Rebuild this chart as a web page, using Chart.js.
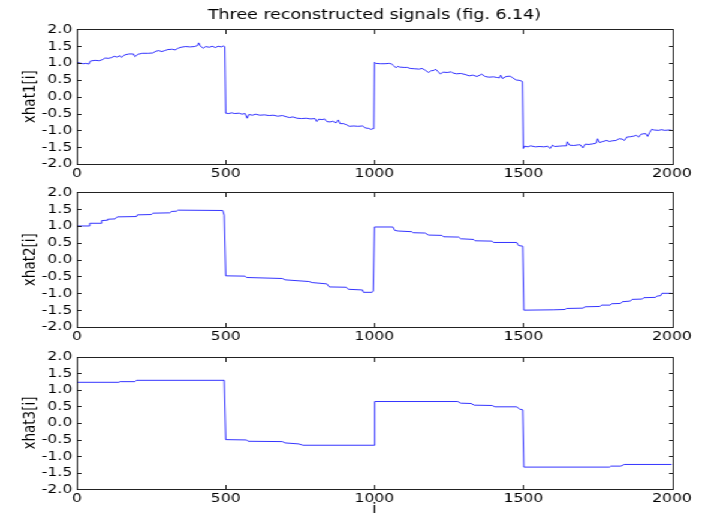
<!DOCTYPE html>
<html>
<head>
<meta charset="utf-8">
<script src="https://cdn.jsdelivr.net/npm/chart.js@4/dist/chart.umd.min.js"></script>
<style>
html, body { margin: 0; padding: 0; background: #fff; overflow: hidden; }
/* the source figure is stretched sideways, so draw narrow and scale it out */
#wrap { position: relative; width: 588px; height: 520px; transform: scaleX(1.19898); transform-origin: 0 0; }
#wrap canvas { position: absolute; left: 0; }
</style>
</head>
<body>
<div id="wrap">
  <canvas id="c1" width="588" height="182" style="top:0"></canvas>
  <canvas id="c2" width="588" height="165" style="top:180px"></canvas>
  <canvas id="c3" width="588" height="175" style="top:345px"></canvas>
</div>
<script>
// values: sample index and signal value
var xhat1I = [0, 10, 20, 30, 40, 45, 60, 75, 85, 95, 105, 115, 125, 135, 145, 150, 160, 175, 190, 195, 205, 220, 240, 255, 265, 275, 285, 295, 305, 320, 330, 340, 350, 365, 380, 395, 405, 409, 415, 425, 432, 445, 455, 465, 475, 485, 493, 497,
  500, 510, 520, 530, 545, 555, 565, 572, 578, 590, 600, 615, 630, 645, 660, 675, 690, 705, 715, 725, 740, 755, 770, 785, 800, 806, 812, 825, 832, 840, 850, 860, 870, 878, 884, 895, 905, 915, 930, 945, 960, 970, 980, 988, 995, 998,
  1000, 1005, 1020, 1035, 1050, 1058, 1065, 1072, 1078, 1085, 1100, 1110, 1120, 1135, 1150, 1160, 1170, 1182, 1190, 1200, 1205, 1212, 1222, 1230, 1245, 1258, 1262, 1275, 1290, 1305, 1318, 1330, 1345, 1360, 1372, 1385, 1400, 1412, 1420, 1424, 1430, 1442, 1455, 1465, 1475, 1490, 1497,
  1500, 1505, 1515, 1525, 1540, 1555, 1570, 1582, 1590, 1598, 1605, 1620, 1635, 1645, 1648, 1655, 1670, 1685, 1692, 1700, 1708, 1720, 1735, 1745, 1750, 1756, 1765, 1780, 1790, 1800, 1812, 1822, 1833, 1840, 1848, 1860, 1872, 1880, 1888, 1895, 1905, 1912, 1918, 1925, 1932, 1940, 1955, 1965, 1975, 1990, 2000];
var xhat1V = [1.02, 1.0, 0.98, 0.99, 0.97, 1.06, 1.08, 1.07, 1.1, 1.15, 1.14, 1.16, 1.2, 1.18, 1.22, 1.17, 1.24, 1.27, 1.27, 1.19, 1.26, 1.29, 1.29, 1.3, 1.35, 1.37, 1.34, 1.37, 1.4, 1.41, 1.39, 1.44, 1.47, 1.49, 1.48, 1.49, 1.52, 1.6, 1.5, 1.44, 1.49, 1.47, 1.5, 1.46, 1.5, 1.48, 1.51, 1.48,
  -0.49, -0.5, -0.48, -0.5, -0.49, -0.52, -0.5, -0.64, -0.53, -0.55, -0.52, -0.55, -0.54, -0.56, -0.55, -0.58, -0.56, -0.6, -0.62, -0.6, -0.64, -0.65, -0.64, -0.66, -0.65, -0.74, -0.67, -0.68, -0.66, -0.74, -0.75, -0.73, -0.78, -0.69, -0.8, -0.8, -0.83, -0.88, -0.87, -0.88, -0.87, -0.93, -0.94, -0.97, -0.95, -0.93,
  1.02, 0.99, 0.98, 0.98, 0.99, 0.97, 0.92, 0.86, 0.9, 0.88, 0.87, 0.87, 0.84, 0.83, 0.82, 0.84, 0.79, 0.72, 0.77, 0.78, 0.82, 0.76, 0.67, 0.73, 0.72, 0.74, 0.71, 0.68, 0.69, 0.66, 0.62, 0.64, 0.6, 0.67, 0.6, 0.58, 0.59, 0.57, 0.56, 0.64, 0.54, 0.6, 0.61, 0.56, 0.5, 0.48, 0.45,
  -1.54, -1.47, -1.49, -1.46, -1.49, -1.48, -1.49, -1.47, -1.54, -1.44, -1.48, -1.47, -1.46, -1.46, -1.34, -1.44, -1.45, -1.43, -1.43, -1.52, -1.41, -1.42, -1.4, -1.38, -1.25, -1.36, -1.34, -1.3, -1.33, -1.31, -1.3, -1.25, -1.26, -1.3, -1.2, -1.19, -1.17, -1.15, -1.2, -1.12, -1.1, -1.1, -1.18, -1.06, -0.97, -0.99, -1.0, -0.98, -1.0, -0.99, -1.0];

var xhat2I = [0, 40, 43, 80, 83, 100, 103, 128, 135, 200, 203, 250, 256, 312, 318, 335, 340, 490, 495,
  500, 565, 570, 690, 700, 780, 790, 840, 848, 905, 912, 960, 963, 992, 996,
  1000, 1062, 1068, 1080, 1125, 1130, 1170, 1182, 1227, 1232, 1283, 1290, 1333, 1338, 1395, 1400, 1478, 1484, 1498,
  1502, 1600, 1640, 1645, 1700, 1708, 1758, 1763, 1792, 1797, 1827, 1833, 1860, 1866, 1900, 1905, 1945, 1950, 1962, 1966, 2000];
var xhat2V = [1.0, 1.0, 1.08, 1.08, 1.16, 1.17, 1.2, 1.21, 1.27, 1.28, 1.33, 1.34, 1.38, 1.39, 1.43, 1.44, 1.47, 1.46, 1.32,
  -0.48, -0.49, -0.53, -0.56, -0.6, -0.65, -0.68, -0.72, -0.81, -0.82, -0.88, -0.9, -0.97, -0.97, -0.93,
  0.97, 0.97, 0.87, 0.85, 0.83, 0.8, 0.79, 0.73, 0.72, 0.68, 0.67, 0.62, 0.6, 0.56, 0.55, 0.51, 0.51, 0.42, 0.4,
  -1.5, -1.49, -1.48, -1.45, -1.44, -1.4, -1.39, -1.35, -1.35, -1.31, -1.3, -1.25, -1.23, -1.18, -1.17, -1.13, -1.12, -1.08, -1.07, -1.0, -1.0];

var xhat3I = [0, 140, 145, 195, 200, 495, 500, 570, 575, 690, 700, 745, 760, 1000, 1001, 1280, 1290, 1325, 1335, 1395, 1405, 1478, 1488, 1498, 1502, 1790, 1795, 1828, 1840, 2000];
var xhat3V = [1.23, 1.23, 1.25, 1.25, 1.29, 1.29, -0.5, -0.51, -0.55, -0.56, -0.6, -0.63, -0.67, -0.67, 0.65, 0.65, 0.6, 0.59, 0.54, 0.53, 0.49, 0.49, 0.42, 0.4, -1.33, -1.33, -1.3, -1.3, -1.25, -1.25];

var xTicks = [0, 500, 1000, 1500, 2000];
var yTicks = [-2, -1.5, -1, -0.5, 0, 0.5, 1, 1.5, 2];
var titleText = 'Three reconstructed signals (fig. 6.14)';

var FONT = 'DejaVu Sans';

// frame round the plot with inward ticks on all four sides
var frameTicks = {
  id: 'frameTicks',
  afterDraw: function (chart) {
    var ctx = chart.ctx, a = chart.chartArea, x = chart.scales.x, y = chart.scales.y;
    var l = Math.round(a.left), r = Math.round(a.right), t = Math.round(a.top), b = Math.round(a.bottom);
    ctx.save();
    ctx.fillStyle = '#222';
    ctx.fillRect(l, t, r - l + 1, 1);
    ctx.fillRect(l, b, r - l + 1, 1);
    ctx.fillRect(l, t, 1, b - t + 1);
    ctx.fillRect(r, t, 1, b - t + 1);
    xTicks.forEach(function (v) {
      var px = Math.round(x.getPixelForValue(v));
      ctx.fillRect(px, b - 4, 1, 4);
      ctx.fillRect(px, t + 1, 1, 4);
    });
    yTicks.forEach(function (v) {
      var py = Math.round(y.getPixelForValue(v));
      ctx.fillRect(l + 1, py, 3, 1);
      ctx.fillRect(r - 3, py, 3, 1);
    });
    ctx.restore();
  }
};

function makeChart(id, xs, ys, yLabel, padTop, xHeight, withTitle, withXLabel) {
  var pts = xs.map(function (v, k) { return { x: v, y: ys[k] }; });
  var c = document.getElementById(id).getContext('2d');
  return new Chart(c, {
    type: 'line',
    data: {
      datasets: [{
        data: pts,
        borderColor: 'rgba(0, 0, 255, 0.8)',
        borderWidth: 1,
        pointRadius: 0,
        tension: 0,
        fill: false
      }]
    },
    options: {
      responsive: false,
      animation: false,
      events: [],
      layout: { padding: { left: 0, right: 27.5, top: padTop, bottom: 0 } },
      plugins: {
        legend: { display: false },
        tooltip: { enabled: false },
        title: {
          display: withTitle,
          text: titleText,
          fullSize: false,
          color: '#000',
          font: { family: FONT, size: 14.5, weight: 'normal' },
          padding: { top: 7, bottom: 5 }
        }
      },
      scales: {
        x: {
          type: 'linear',
          min: 0,
          max: 2000,
          afterBuildTicks: function (s) { s.ticks = xTicks.map(function (v) { return { value: v }; }); },
          ticks: {
            color: '#000',
            font: { family: FONT, size: 13 },
            padding: 2,
            maxRotation: 0,
            autoSkip: false,
            callback: function (v) { return String(v); }
          },
          grid: { display: false, drawTicks: false },
          border: { display: false },
          title: {
            display: withXLabel,
            text: 'i',
            color: '#000',
            font: { family: FONT, size: 13.5 },
            padding: { top: 0, bottom: 2 }
          },
          afterFit: function (s) { s.height = xHeight; }
        },
        y: {
          min: -2,
          max: 2,
          afterBuildTicks: function (s) { s.ticks = yTicks.map(function (v) { return { value: v }; }); },
          ticks: {
            color: '#000',
            font: { family: FONT, size: 13 },
            padding: 4,
            autoSkip: false,
            callback: function (v) { return v.toFixed(1); }
          },
          grid: { display: false, drawTicks: false },
          border: { display: false },
          title: {
            display: true,
            text: yLabel,
            color: '#000',
            font: { family: FONT, size: 13.5 },
            padding: { top: 17, bottom: 0 }
          },
          afterFit: function (s) { s.width = 64.2; }
        }
      }
    },
    plugins: [frameTicks]
  });
}

makeChart('c1', xhat1I, xhat1V, 'xhat1[i]', 0, 18, true, false);
makeChart('c2', xhat2I, xhat2V, 'xhat2[i]', 12.3, 18, false, false);
makeChart('c3', xhat3I, xhat3V, 'xhat3[i]', 9.3, 30.7, false, true);
</script>
</body>
</html>
